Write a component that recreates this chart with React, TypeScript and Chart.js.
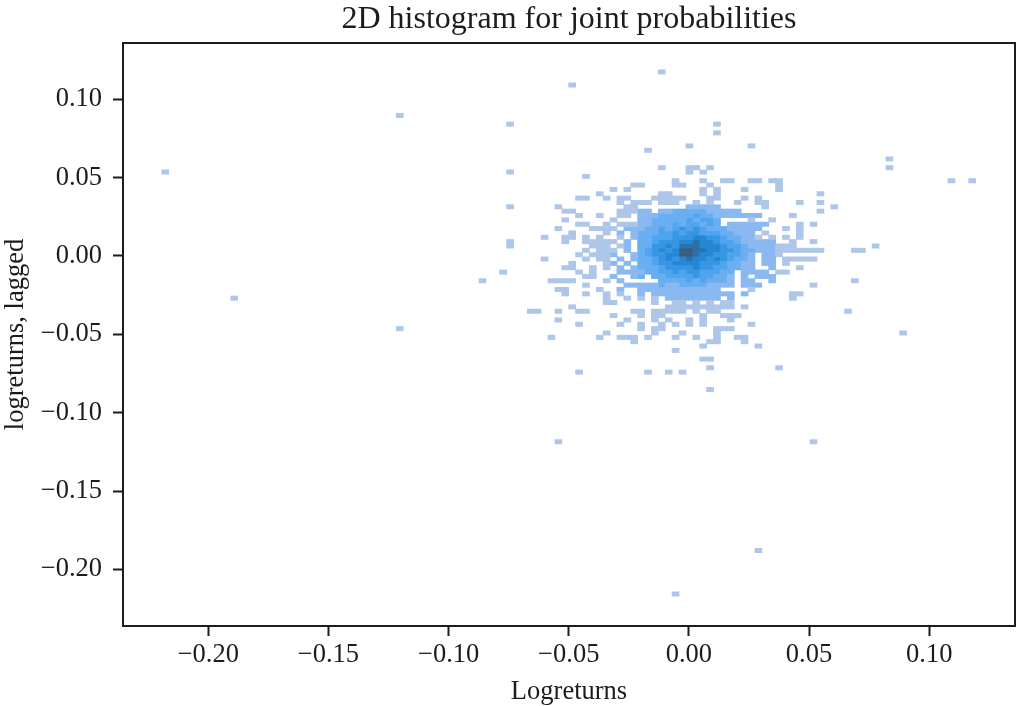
import React, { useEffect, useRef } from "react";
import { Chart, registerables } from "chart.js";

Chart.register(...registerables);

const FONT = "'Liberation Serif', 'Times New Roman', serif";
const INK = "#1c1c1c";

const xTickValues = [-0.2, -0.15, -0.1, -0.05, 0, 0.05, 0.1];
const yTickValues = [0.1, 0.05, 0, -0.05, -0.1, -0.15, -0.2];

// Histogram bin geometry in data units
const BIN_X = 0.00287;
const BIN_Y = 0.002776;
const ORIGIN_X = 0.0002;
const ORIGIN_Y = 0.00083;

// Shades of the histogram, from a few counts up to the peak
const levelColors = ["#aec6e8", "#8ab8f0", "#6aaef2", "#4ea4ee", "#3696e4", "#2586d4", "#2c70a8", "#3a5d7c"];

// Isolated bins: [row, columns], lowest shade
const sparseBins: [number, number[]][] = [
  [42, [-4]], [39, [-17]], [32, [-42]], [30, [-26, 4]], [28, [4]], [25, [0, 9]], [24, [-6]], [22, [29]],
  [20, [-4, 0, 1, 3, 29]], [19, [-76, -26, 0, 2]], [18, [-15]], [17, [-2, 2, 5, 6, 9, 10, 12, 13, 38, 41]],
  [16, [-8, -7, -2, -1, 3, 13]], [15, [-11, -9, 2, 4, 8, 13]], [14, [-13, -4, -3, 2, 4, 19]],
  [13, [-16, -15, -12, -10, -9, -5, -4, -3, -2, -1, 3, 4, 8, 10]],
  [12, [-10, -8, -7, -6, -4, -3, -2, 1, 3, 7, 10, 11, 16, 19]],
  [11, [-26, -19, 21]], [10, [-18, -17, 19]], [9, [-16, -13, 15]], [8, [-18]],
  [7, [-16, -15, -12, 16, 18]], [6, [-19, -14, -13, -12, 14, 16]], [5, [-17, -12, 16]],
  [4, [-21, -18, -17, -15, -13, 14, 16]], [3, [-26, -18, -15, -14, -13, -12, 15, 18]],
  [2, [-26, -14, -13, -12, 13, 14, 15, 27]], [1, [-15, -13, -12, 13, 14, 15, 16, 17, 18, 19, 24, 25]],
  [0, [-16, -14, -13, -12, 13]], [-1, [-21, -15, -13, -12, 14, 15, 16, 17, 18]], [-2, [-17, -12, 14]],
  [-3, [-18, -17, -14, -12, 16]], [-4, [-27, -16, -14, 13, 14]], [-5, [-15, -14]],
  [-6, [-30, -20, -19, -18, -17, -12, 24]], [-7, [-15, 18]], [-8, [-19, -18, -13]],
  [-9, [-18, -15, -12, 15, 16]], [-10, [-12, 15]], [-11, [-12, -11, -5, -2, -1, 1, 3, 5, 6]],
  [-12, [-17, -3, -2, -1, 0, 1, 2, 3, 4, 5, 6, 8]],
  [-13, [-23, -22, -19, -16, -15, -8, -7, -5, -4, -3, -2, -1, 1, 3, 4, 23]],
  [-14, [-11, -7, -5, -4, 2, 5, 6, 7]], [-15, [-19, -9, -5, -3, 0, 2, 6]], [-16, [-16, -10, -7, -4, -2, 0, 2, 9]],
  [-17, [-7, -5, -4, 4, 5, 6]], [-18, [-12, -5, -1, 4, 31]], [-19, [-20, -13, -10, -9, -8, -6, -2, 1, 4, 7, 8]],
  [-20, [-8, 3, 4, 8]], [-21, [2, 10]], [-22, [-2]], [-24, [2, 3]], [-26, [3, 13]], [-27, [-16, -6, -3, -1]],
  [-31, [3]], [-43, [-19, 18]], [-68, [10]], [-78, [-2]],
  [-10, [-66]], [-17, [-42]],
];

// Dense core: rows 11 down to -10, columns -11 to 12, digit = shade
const coreTopRow = 11;
const coreFirstColumn = -11;
const coreRows = [
  "..11.......22222......1.",
  ".11122.223333322222.....",
  ".11.222333334332222222..",
  "1...223333343443....1..1",
  ".111223334344343.222222.",
  "1.22233434545433322222..",
  ".2.233344545544433222.1.",
  ".1.2334445556655433221.1",
  "1.2.33455566766544322222",
  ".12.33556577766654432222",
  "1.2.34565688776655433222",
  "2..234556688766554432.22",
  ".2.233456567665654332.22",
  "2.2.33455666655543322.22",
  ".2.233345555655443322..2",
  ".22223344545544433.2222.",
  "2..23.334444544332.2.222",
  ".2.....33334343332.22..2",
  "..2222232233332222.222..",
  ".2..222222222222....1...",
  ".1..2.222222222222.2....",
  "..1.1.1.22222222.2......",
];

function buildDatasets() {
  const bins = new Map<string, number>();
  sparseBins.forEach(([row, cols]) => cols.forEach((col) => bins.set(`${col},${row}`, 1)));
  coreRows.forEach((text, i) => {
    text.split("").forEach((ch, j) => {
      if (ch !== ".") bins.set(`${coreFirstColumn + j},${coreTopRow - i}`, Number(ch));
    });
  });
  return levelColors.map((color, idx) => {
    const data: { x: number; y: [number, number] }[] = [];
    bins.forEach((level, key) => {
      if (level !== idx + 1) return;
      const [col, row] = key.split(",").map(Number);
      const cy = ORIGIN_Y + BIN_Y * row;
      data.push({ x: ORIGIN_X + BIN_X * col, y: [cy - BIN_Y / 2, cy + BIN_Y / 2] });
    });
    return { label: `shade ${idx + 1}`, data, backgroundColor: color, borderWidth: 0, barThickness: 7, grouped: false };
  });
}

const framePlugin = {
  id: "frame",
  afterDraw(chart: any) {
    const { ctx, chartArea: a } = chart;
    ctx.save();
    ctx.strokeStyle = INK;
    ctx.lineWidth = 2;
    ctx.strokeRect(a.left, a.top, a.right - a.left, a.bottom - a.top);
    ctx.restore();
  },
};

const formatTick = (v: number) => (v < -1e-9 ? "\u2212" : "") + Math.abs(v).toFixed(2);

export default function App() {
  const ref = useRef<HTMLCanvasElement | null>(null);
  useEffect(() => {
    const chart = new Chart(ref.current as HTMLCanvasElement, {
      type: "bar",
      data: { datasets: buildDatasets() as any },
      plugins: [framePlugin],
      options: {
        animation: false,
        responsive: false,
        events: [],
        layout: { padding: { top: 0, right: 2, left: 0, bottom: 0 } },
        plugins: {
          legend: { display: false },
          tooltip: { enabled: false },
          title: {
            display: true,
            fullSize: false,
            text: "2D histogram for joint probabilities",
            color: INK,
            font: { family: FONT, size: 32, weight: "normal", lineHeight: 1.0 },
            padding: { top: 4, bottom: 7 },
          },
        },
        scales: {
          x: {
            type: "linear",
            offset: false,
            min: -0.2355,
            max: 0.1357,
            afterBuildTicks: (s: any) => { s.ticks = xTickValues.map((value) => ({ value })); },
            afterFit: (s: any) => { s.height = 80; },
            grid: { display: true, offset: false, drawOnChartArea: false, drawTicks: true, tickLength: 10, tickWidth: 2, tickColor: INK },
            border: { display: false },
            ticks: { color: INK, font: { family: FONT, size: 26.5 }, padding: 3, maxRotation: 0, autoSkip: false, callback: (v: any) => formatTick(Number(v)) },
            title: { display: true, text: "Logreturns", color: INK, font: { family: FONT, size: 26.5, lineHeight: 1.05 }, padding: { top: 0, bottom: 0 } },
          },
          y: {
            type: "linear",
            min: -0.2361,
            max: 0.1359,
            afterBuildTicks: (s: any) => { s.ticks = yTickValues.map((value) => ({ value })); },
            afterFit: (s: any) => { s.width = 123; },
            grid: { display: true, offset: false, drawOnChartArea: false, drawTicks: true, tickLength: 10, tickWidth: 2, tickColor: INK },
            border: { display: false },
            ticks: { color: INK, font: { family: FONT, size: 26.5 }, padding: 11, autoSkip: false, callback: (v: any) => formatTick(Number(v)) },
            title: { display: true, text: "logreturns, lagged", color: INK, font: { family: FONT, size: 26.5 }, padding: { top: 0, bottom: 0 } },
          },
        },
      } as any,
    });
    return () => chart.destroy();
  }, []);
  return (
    <canvas
      ref={ref}
      width={1017}
      height={706}
      style={{ position: "absolute", left: 0, top: 0, width: 1017, height: 706 }}
    />
  );
}
